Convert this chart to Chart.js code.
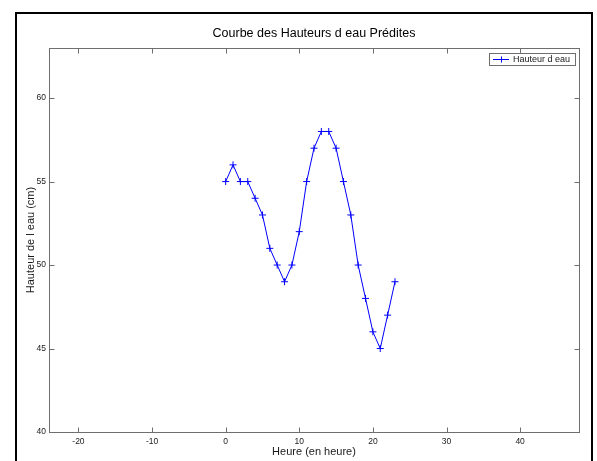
<!DOCTYPE html>
<html>
<head>
<meta charset="utf-8">
<script src="https://cdn.jsdelivr.net/npm/chart.js@4/dist/chart.umd.min.js"></script>
<style>
  html, body { margin: 0; padding: 0; background: #ffffff; }
  #wrap { width: 597px; height: 461px; position: relative; }
</style>
</head>
<body>
<div id="wrap"><canvas id="c" width="597" height="461"></canvas></div>
<script>
// Heures de prédiction et hauteurs d'eau prédites (cm)
const heures = [0, 1, 2, 3, 4, 5, 6, 7, 8, 9, 10, 11, 12, 13, 14, 15, 16, 17, 18, 19, 20, 21, 22, 23];
const hauteurs = [55, 56, 55, 55, 54, 53, 51, 50, 49, 50, 52, 55, 57, 58, 58, 57, 55, 53, 50, 48, 46, 45, 47, 49];

// Graduations des axes
const xTicks = [-20, -10, 0, 10, 20, 30, 40];
const yTicks = [40, 45, 50, 55, 60];
const xBornes = [-24, 48];
const yBornes = [40, 63];

// Textes
const titre = 'Courbe des Hauteurs d eau Prédites';
const titreX = 'Heure (en heure)';
const titreY = 'Hauteur de l eau (cm)';
const legende = 'Hauteur d eau';

const BLEU = '#0000ff';
const AXE = '#6f6f6f';
const TEXTE = '#1a1a1a';
const POLICE = '"Liberation Sans", Arial, Helvetica, sans-serif';

// Cadre de la figure, boîte des axes avec graduations intérieures, titre et légende
const cadre = {
  id: 'cadre',
  beforeDraw(chart) {
    const ctx = chart.ctx;
    ctx.save();
    ctx.fillStyle = '#ffffff';
    ctx.fillRect(0, 0, chart.width, chart.height);
    ctx.restore();
  },
  afterDraw(chart) {
    const { ctx, chartArea: a, scales: { x, y } } = chart;
    ctx.save();

    // cadre noir extérieur
    ctx.strokeStyle = '#000000';
    ctx.lineWidth = 2;
    ctx.strokeRect(16, 13, 576, 500);

    // boîte des axes
    ctx.strokeStyle = AXE;
    ctx.lineWidth = 1;
    ctx.strokeRect(a.left + 0.5, a.top + 0.5, a.right - a.left, a.bottom - a.top);

    // graduations tournées vers l'intérieur, sur les quatre côtés
    const L = 5;
    ctx.beginPath();
    x.ticks.forEach(t => {
      const px = Math.round(x.getPixelForValue(t.value)) + 0.5;
      ctx.moveTo(px, a.bottom + 0.5); ctx.lineTo(px, a.bottom + 0.5 - L);
      ctx.moveTo(px, a.top + 0.5); ctx.lineTo(px, a.top + 0.5 + L);
    });
    y.ticks.forEach(t => {
      const py = Math.round(y.getPixelForValue(t.value)) + 0.5;
      ctx.moveTo(a.left + 0.5, py); ctx.lineTo(a.left + 0.5 + L, py);
      ctx.moveTo(a.right + 0.5, py); ctx.lineTo(a.right + 0.5 - L, py);
    });
    ctx.stroke();

    // titre centré sur la zone de tracé
    ctx.fillStyle = '#000000';
    ctx.font = '12.5px ' + POLICE;
    ctx.textAlign = 'center';
    ctx.textBaseline = 'middle';
    ctx.fillText(titre, (a.left + a.right) / 2, 34);

    // légende dans le coin supérieur droit
    const bx = 489.5, by = 53.5, bw = 86, bh = 12;
    ctx.fillStyle = '#ffffff';
    ctx.fillRect(bx, by, bw, bh);
    ctx.strokeStyle = AXE;
    ctx.strokeRect(bx, by, bw, bh);
    const ly = 59.5;
    ctx.strokeStyle = BLEU;
    ctx.beginPath();
    ctx.moveTo(493, ly); ctx.lineTo(509, ly);
    ctx.moveTo(501.5, ly - 3); ctx.lineTo(501.5, ly + 3);
    ctx.stroke();
    ctx.fillStyle = TEXTE;
    ctx.font = '9px ' + POLICE;
    ctx.textAlign = 'left';
    ctx.textBaseline = 'middle';
    ctx.fillText(legende, 513, ly);

    ctx.restore();
  }
};

const points = heures.map((h, i) => ({ x: h, y: hauteurs[i] }));

new Chart(document.getElementById('c'), {
  type: 'line',
  data: {
    datasets: [{
      label: legende,
      data: points,
      borderColor: BLEU,
      backgroundColor: BLEU,
      borderWidth: 1,
      tension: 0,
      fill: false,
      pointStyle: 'cross',
      pointRadius: 3.5,
      pointBorderWidth: 1,
      pointBorderColor: BLEU,
      pointHoverRadius: 3.5
    }]
  },
  options: {
    responsive: false,
    devicePixelRatio: 1,
    animation: false,
    events: [],
    layout: { padding: { top: 48, right: 18, left: 0, bottom: 0 } },
    plugins: {
      legend: { display: false },
      title: { display: false },
      tooltip: { enabled: false }
    },
    scales: {
      x: {
        type: 'linear',
        position: 'bottom',
        min: xBornes[0],
        max: xBornes[1],
        afterBuildTicks: s => { s.ticks = xTicks.map(v => ({ value: v })); },
        afterFit: s => { s.height = 29; },
        grid: { display: false, drawTicks: false },
        border: { display: false },
        ticks: {
          padding: 5,
          color: TEXTE,
          font: { family: POLICE, size: 8.5 },
          maxRotation: 0,
          callback: v => String(v)
        },
        title: {
          display: true,
          text: titreX,
          color: TEXTE,
          font: { family: POLICE, size: 11 },
          padding: { top: 0, bottom: 2.4 }
        }
      },
      y: {
        type: 'linear',
        position: 'left',
        min: yBornes[0],
        max: yBornes[1],
        afterBuildTicks: s => { s.ticks = yTicks.map(v => ({ value: v })); },
        afterFit: s => { s.width = 49; },
        grid: { display: false, drawTicks: false },
        border: { display: false },
        ticks: {
          padding: 3,
          color: TEXTE,
          font: { family: POLICE, size: 8.5 },
          callback: v => String(v)
        },
        title: {
          display: true,
          text: titreY,
          color: TEXTE,
          font: { family: POLICE, size: 11 },
          padding: { top: 24.4, bottom: 0 }
        }
      }
    }
  },
  plugins: [cadre]
});
</script>
</body>
</html>
